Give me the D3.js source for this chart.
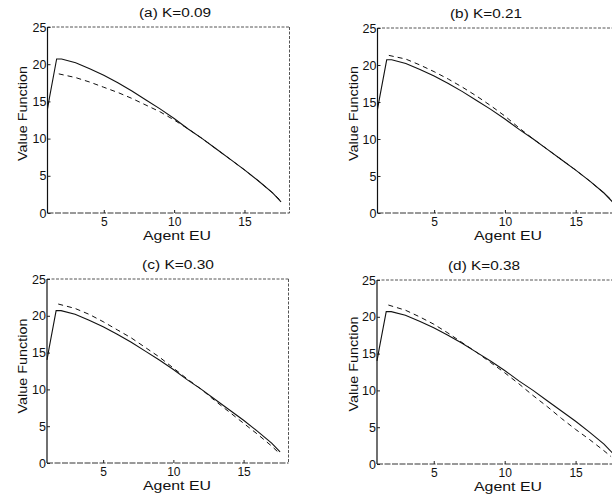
<!DOCTYPE html>
<html>
<head>
<meta charset="utf-8">
<script src="https://cdn.jsdelivr.net/npm/d3@7"></script>
<style>
  html, body { margin: 0; padding: 0; background: #fff; }
  svg { display: block; }
  text { font-family: "Liberation Sans", Arial, Helvetica, sans-serif; fill: #111; }
</style>
</head>
<body>
<div id="chart"></div>
<script>
// ---- data ----
const panelTitles = ["(a) K=0.09", "(b) K=0.21", "(c) K=0.30", "(d) K=0.38"];
const xTicks = [5, 10, 15];
const yTicks = [0, 5, 10, 15, 20, 25];
const xLabel = "Agent EU";
const yLabel = "Value Function";

const solidX = [1, 1.15, 1.65, 2, 3, 4, 5, 6, 7, 8, 9, 10, 11, 12, 13, 14, 15, 16, 17, 17.6];
const solidY = [14, 15.6, 20.7, 20.7, 20.2, 19.4, 18.5, 17.5, 16.4, 15.2, 14.0, 12.7, 11.3, 10.0, 8.6, 7.2, 5.8, 4.3, 2.7, 1.5];

const dashedX = [1.8, 3, 4, 5, 6, 7, 8, 9, 10, 11, 12, 13, 14, 15, 16, 17, 17.5];
const dashedA = [18.7, 18.2, 17.6, 16.9, 16.2, 15.4, 14.5, 13.6, 12.5, 11.3, 10.0, 8.6, 7.2, 5.8, 4.3, 2.7, 1.8];
const dashedB = [21.3, 20.8, 20.0, 19.1, 18.1, 17.0, 15.8, 14.5, 13.1, 11.5, 10.0, 8.6, 7.2, 5.8, 4.3, 2.7, 1.8];
const dashedC = [21.6, 21.0, 20.2, 19.2, 18.1, 17.0, 15.7, 14.4, 12.9, 11.4, 10.0, 8.4, 6.9, 5.4, 3.9, 2.3, 1.4];
const dashedD = [21.6, 20.9, 20.0, 19.0, 17.8, 16.5, 15.2, 13.8, 12.4, 10.9, 9.3, 7.8, 6.2, 4.7, 3.3, 1.8, 1.0];
const dashedSeries = [dashedA, dashedB, dashedC, dashedD];

// ---- layout ----
const W = 612, H = 500;
const panels = [
  { x0: 47.5, x1: 289.5, y0: 27, y1: 213, tx: 175, lx: 177, ylx: 27, yly: 113.5 },
  { x0: 377.5, x1: 621, y0: 28, y1: 213, tx: 486, lx: 508, ylx: 358, yly: 113.5 },
  { x0: 47, x1: 288.5, y0: 279, y1: 463, tx: 178, lx: 177, ylx: 27, yly: 366 },
  { x0: 377, x1: 621, y0: 280, y1: 464, tx: 484, lx: 508, ylx: 358, yly: 364 }
];
const FS = 12.5;
const TFS = 12;

const svg = d3.select("#chart").append("svg")
  .attr("width", W).attr("height", H);

panels.forEach((p, i) => {
  const x = d3.scaleLinear().domain([1, 18.2]).range([p.x0, p.x1]);
  const y = d3.scaleLinear().domain([0, 25]).range([p.y1, p.y0]);
  const g = svg.append("g");

  // box
  g.append("line").attr("x1", p.x0).attr("x2", p.x1).attr("y1", p.y0).attr("y2", p.y0)
    .attr("stroke", "#555").attr("stroke-width", 1).attr("stroke-dasharray", "3,1.5");
  g.append("line").attr("x1", p.x1).attr("x2", p.x1).attr("y1", p.y0).attr("y2", p.y1)
    .attr("stroke", "#555").attr("stroke-width", 1).attr("stroke-dasharray", "3,1.5");
  g.append("line").attr("x1", p.x0).attr("x2", p.x1).attr("y1", p.y1).attr("y2", p.y1)
    .attr("stroke", "#333").attr("stroke-width", 1).attr("stroke-dasharray", "6,1.5");
  g.append("line").attr("x1", p.x0).attr("x2", p.x0).attr("y1", p.y0).attr("y2", p.y1)
    .attr("stroke", "#111").attr("stroke-width", 1.2);

  // axes (ticks inward, labels outside)
  const xAxis = d3.axisBottom(x).tickValues(xTicks).tickSize(-3).tickPadding(4).tickFormat(d3.format("d"));
  const gx = g.append("g").attr("transform", `translate(0,${p.y1})`).call(xAxis);
  gx.select(".domain").remove();
  gx.selectAll("line").attr("stroke", "#222");
  gx.selectAll("text").attr("font-size", TFS).attr("fill", "#111")
    .attr("font-family", "Liberation Sans, Arial, sans-serif");

  const yAxis = d3.axisLeft(y).tickValues(yTicks).tickSize(-3).tickPadding(1).tickFormat(d3.format("d"));
  const gy = g.append("g").attr("transform", `translate(${p.x0},0)`).call(yAxis);
  gy.select(".domain").remove();
  gy.selectAll("line").attr("stroke", "#222");
  gy.selectAll("text").attr("font-size", TFS + 0.5).attr("fill", "#111")
    .attr("font-family", "Liberation Sans, Arial, sans-serif");

  // lines
  const line = d3.line().x(d => x(d[0])).y(d => y(d[1]));
  const solidPts = solidX.map((v, k) => [v, solidY[k]]);
  const dashPts = dashedX.map((v, k) => [v, dashedSeries[i][k]]);
  g.append("path").datum(dashPts).attr("d", line)
    .attr("fill", "none").attr("stroke", "#111").attr("stroke-width", 1)
    .attr("stroke-dasharray", "5,4");
  g.append("path").datum(solidPts).attr("d", line)
    .attr("fill", "none").attr("stroke", "#111").attr("stroke-width", 1.1);

  // labels
  g.append("text").attr("x", p.tx).attr("y", p.y0 - 10).attr("text-anchor", "middle")
    .attr("font-size", FS).attr("textLength", 72).attr("lengthAdjust", "spacingAndGlyphs")
    .text(panelTitles[i]);
  g.append("text").attr("x", p.lx).attr("y", p.y1 + 27).attr("text-anchor", "middle")
    .attr("font-size", 12).attr("textLength", 68).attr("lengthAdjust", "spacingAndGlyphs")
    .text(xLabel);
  g.append("text").attr("transform", `translate(${p.ylx},${p.yly}) rotate(-90)`)
    .attr("text-anchor", "middle").attr("font-size", FS)
    .attr("textLength", 95).attr("lengthAdjust", "spacingAndGlyphs").text(yLabel);
});
</script>
</body>
</html>
